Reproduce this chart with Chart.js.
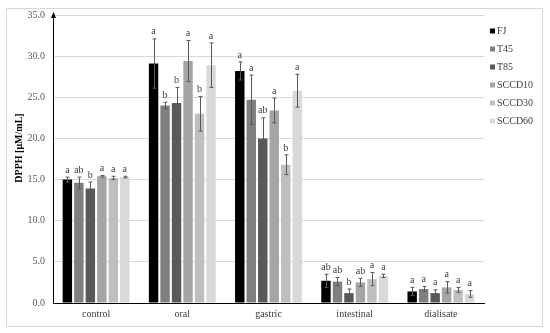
<!DOCTYPE html>
<html>
<head>
<meta charset="utf-8">
<script src="https://cdn.jsdelivr.net/npm/chart.js@4"></script>
<style>
  html, body { margin: 0; padding: 0; background: #fff; }
  #wrap { width: 550px; height: 333px; }
</style>
</head>
<body>
<div id="wrap"><canvas id="dpphChart" width="550" height="333"></canvas></div>
<script>
const categories = ['control', 'oral', 'gastric', 'intestinal', 'dialisate'];
const seriesNames = ['FJ', 'T45', 'T85', 'SCCD10', 'SCCD30', 'SCCD60'];
const seriesColors = ['#000000', '#7f7f7f', '#595959', '#a5a5a5', '#bfbfbf', '#d9d9d9'];

const fjValues = [15.0, 29.1, 28.2, 2.7, 1.4];
const t45Values = [14.6, 24.0, 24.7, 2.6, 1.7];
const t85Values = [13.9, 24.3, 20.0, 1.2, 1.2];
const sccd10Values = [15.4, 29.4, 23.4, 2.5, 1.9];
const sccd30Values = [15.2, 23.0, 16.8, 2.9, 1.6];
const sccd60Values = [15.3, 28.9, 25.8, 3.3, 1.1];

const fjErrors = [0.3, 3.0, 1.1, 0.8, 0.5];
const t45Errors = [0.7, 0.4, 3.0, 0.5, 0.3];
const t85Errors = [0.8, 1.9, 2.5, 0.5, 0.4];
const sccd10Errors = [0.1, 2.5, 1.5, 0.5, 0.7];
const sccd30Errors = [0.2, 2.1, 1.2, 0.8, 0.3];
const sccd60Errors = [0.1, 2.7, 2.0, 0.2, 0.4];

const fjLetters = ['a', 'a', 'a', 'ab', 'a'];
const t45Letters = ['ab', 'b', 'a', 'ab', 'a'];
const t85Letters = ['b', 'b', 'ab', 'b', 'a'];
const sccd10Letters = ['a', 'a', 'a', 'ab', 'a'];
const sccd30Letters = ['a', 'b', 'b', 'a', 'a'];
const sccd60Letters = ['a', 'a', 'a', 'a', 'a'];

const yTicks = [0, 5, 10, 15, 20, 25, 30, 35];
const yTitle = 'DPPH [\u03bcM/mL]';

const allValues = [fjValues, t45Values, t85Values, sccd10Values, sccd30Values, sccd60Values];
const allErrors = [fjErrors, t45Errors, t85Errors, sccd10Errors, sccd30Errors, sccd60Errors];
const allLetters = [fjLetters, t45Letters, t85Letters, sccd10Letters, sccd30Letters, sccd60Letters];

const serif = '"Liberation Serif", "DejaVu Serif", serif';

// frame, axis title, axis arrow, error bars, letters and legend
const extras = {
  id: 'extras',
  beforeDraw(chart) {
    const c = chart.ctx;
    c.save();
    c.strokeStyle = '#d9d9d9';
    c.lineWidth = 1;
    c.strokeRect(6.5, 8.5, 536, 318);
    c.translate(19, 148);
    c.rotate(-Math.PI / 2);
    c.fillStyle = '#000';
    c.font = 'bold 10px ' + serif;
    c.textAlign = 'center';
    c.textBaseline = 'middle';
    c.fillText(yTitle, 0, 0);
    c.restore();
  },
  afterDatasetsDraw(chart) {
    const c = chart.ctx;
    const y = chart.scales.y;
    c.save();
    chart.data.datasets.forEach((ds, i) => {
      const meta = chart.getDatasetMeta(i);
      meta.data.forEach((bar, j) => {
        const v = ds.data[j];
        const e = allErrors[i][j];
        const top = y.getPixelForValue(v + e);
        const bot = y.getPixelForValue(v - e);
        const x = Math.round(bar.x) + 0.5;
        c.strokeStyle = '#595959';
        c.lineWidth = 1;
        c.beginPath();
        c.moveTo(x, top); c.lineTo(x, bot);
        c.moveTo(x - 2, top); c.lineTo(x + 2, top);
        c.moveTo(x - 2, bot); c.lineTo(x + 2, bot);
        c.stroke();
        c.fillStyle = '#404040';
        c.font = '10px ' + serif;
        c.textAlign = 'center';
        c.textBaseline = 'bottom';
        c.fillText(allLetters[i][j], bar.x, top - 2);
      });
    });
    // y axis arrow
    const ax = Math.round(chart.chartArea.left) + 0.5;
    const at = chart.chartArea.top;
    c.fillStyle = '#000';
    c.beginPath();
    c.moveTo(ax, at - 3);
    c.lineTo(ax - 2.5, at + 3);
    c.lineTo(ax + 2.5, at + 3);
    c.closePath();
    c.fill();
    // legend
    c.font = '10px ' + serif;
    c.textAlign = 'left';
    c.textBaseline = 'middle';
    seriesNames.forEach((name, i) => {
      const ly = 31 + i * 18;
      c.fillStyle = seriesColors[i];
      c.fillRect(490, ly - 2.5, 5, 5);
      c.fillStyle = '#404040';
      c.fillText(name, 497, ly);
    });
    c.restore();
  }
};

const ctx = document.getElementById('dpphChart').getContext('2d');
const dpphChart = new Chart(ctx, {
  type: 'bar',
  data: {
    labels: categories,
    datasets: seriesNames.map((name, i) => ({
      label: name,
      data: allValues[i],
      backgroundColor: seriesColors[i],
      borderWidth: 0,
      categoryPercentage: 0.8,
      barPercentage: 0.82
    }))
  },
  options: {
    responsive: false,
    animation: false,
    layout: { padding: { left: 8, right: 66, top: 15, bottom: 8 } },
    plugins: {
      legend: { display: false },
      tooltip: { enabled: false }
    },
    scales: {
      x: {
        grid: { display: false, drawTicks: false },
        border: { color: '#000', width: 1 },
        ticks: { color: '#404040', font: { family: serif, size: 10 }, padding: 5 },
        afterFit(s) { s.height = 22; }
      },
      y: {
        min: 0,
        max: 35,
        afterBuildTicks(s) { s.ticks = yTicks.map(v => ({ value: v })); },
        grid: { color: '#d9d9d9', drawTicks: false },
        border: { color: '#000', width: 1 },
        ticks: {
          color: '#595959',
          font: { family: serif, size: 10 },
          padding: 8,
          callback: v => v.toFixed(1)
        },
        afterFit(s) { s.width = 45; }
      }
    }
  },
  plugins: [extras]
});
</script>
</body>
</html>
